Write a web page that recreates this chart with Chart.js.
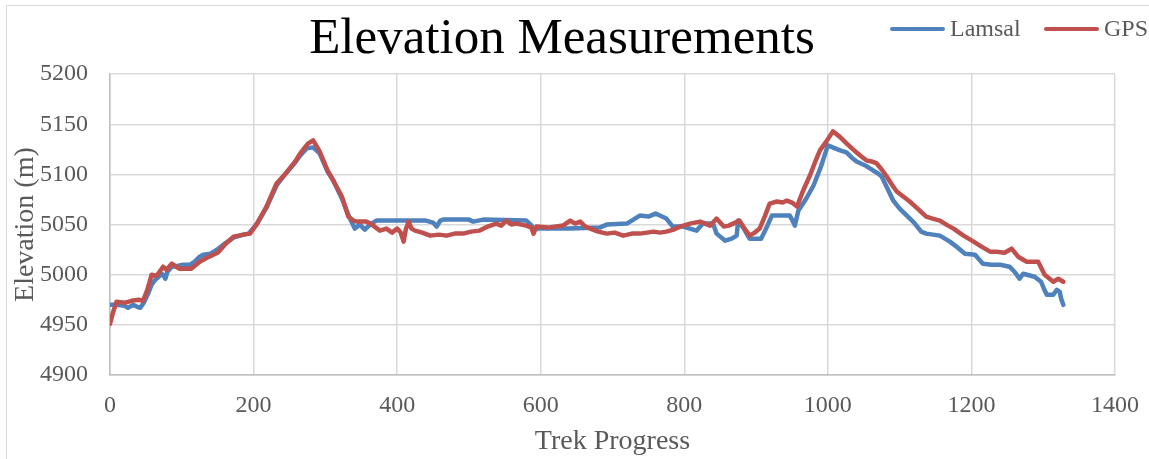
<!DOCTYPE html>
<html>
<head>
<meta charset="utf-8">
<title>Elevation Measurements</title>
<script src="https://cdn.jsdelivr.net/npm/chart.js@4.4.1/dist/chart.umd.min.js"></script>
<style>
    html, body { margin: 0; padding: 0; background: #fff; overflow: hidden; }
    .frame { position: absolute; left: 6px; top: 5px; width: 1300px; height: 600px; border-left: 1px solid #d9d9d9; border-top: 1px solid #d9d9d9; }
    .wrap { position: absolute; left: 0; top: 0; width: 1149px; height: 459px; }
</style>
</head>
<body>
<div class="frame"></div>
<div class="wrap"><canvas id="elevationChart"></canvas></div>
<script>
"use strict";

const seriesNames = ["Lamsal", "GPS"];
const seriesColors = ["#4f81bd", "#c0504d"];

// values (trek progress index, elevation in m)
const lamsalX = [0, 10, 20, 25, 32, 38, 42, 47, 53, 58, 63, 68, 72, 74, 77, 80, 86, 95, 102, 112, 118, 125, 130, 140, 149, 160, 172, 186, 193, 204, 218, 232, 246, 258, 265, 274, 283, 292, 303, 311, 323, 333, 341, 348, 355, 362, 371, 404, 440, 450, 455, 460, 464, 500, 506, 520, 580, 586, 590, 640, 682, 692, 720, 738, 750, 760, 766, 775, 784, 798, 808, 817, 826, 840, 845, 857, 866, 873, 875, 882, 891, 907, 914, 922, 947, 950, 954, 959, 970, 980, 990, 1000, 1010, 1017, 1026, 1033, 1040, 1052, 1063, 1070, 1075, 1083, 1091, 1100, 1110, 1120, 1130, 1137, 1156, 1170, 1181, 1191, 1205, 1216, 1228, 1240, 1253, 1260, 1267, 1272, 1288, 1297, 1301, 1305, 1314, 1319, 1323, 1325, 1328];
const lamsalY = [4970, 4970, 4969, 4967, 4970, 4968, 4967, 4972, 4981, 4990, 4995, 4998, 5001, 5000, 4996, 5003, 5008, 5009, 5010, 5010, 5013, 5018, 5020, 5021, 5025, 5031, 5037, 5040, 5041, 5050, 5067, 5089, 5102, 5112, 5119, 5126, 5127, 5121, 5103, 5094, 5076, 5058, 5046, 5050, 5045, 5050, 5054, 5054, 5054, 5052, 5048, 5054, 5055, 5055, 5053, 5055, 5054, 5050, 5046, 5046, 5047, 5050, 5051, 5059, 5058, 5061, 5059, 5056, 5048, 5048, 5046, 5044, 5051, 5051, 5041, 5034, 5036, 5039, 5054, 5047, 5036, 5036, 5046, 5059, 5059, 5055, 5049, 5064, 5076, 5089, 5107, 5129, 5126, 5124, 5122, 5117, 5113, 5109, 5104, 5101, 5098, 5086, 5074, 5066, 5059, 5052, 5043, 5041, 5039, 5033, 5027, 5021, 5020, 5011, 5010, 5010, 5008, 5003, 4996, 5001, 4998, 4993, 4986, 4980, 4980, 4985, 4983, 4976, 4970];

const gpsX = [0, 4, 9, 20, 30, 40, 46, 52, 58, 65, 70, 74, 79, 86, 92, 97, 113, 125, 135, 144, 150, 160, 172, 186, 195, 204, 218, 232, 246, 258, 265, 276, 283, 292, 303, 311, 323, 332, 339, 344, 357, 363, 376, 385, 393, 400, 405, 409, 412, 416, 420, 425, 435, 446, 458, 469, 480, 492, 503, 515, 526, 538, 545, 552, 559, 566, 580, 587, 590, 594, 610, 631, 641, 648, 655, 662, 669, 680, 692, 703, 715, 727, 738, 748, 757, 766, 775, 785, 794, 808, 822, 836, 845, 850, 855, 862, 868, 877, 884, 891, 898, 905, 912, 919, 929, 937, 943, 950, 957, 965, 975, 982, 989, 998, 1007, 1016, 1026, 1035, 1045, 1054, 1061, 1068, 1075, 1082, 1089, 1096, 1105, 1114, 1125, 1137, 1146, 1156, 1165, 1175, 1189, 1203, 1214, 1226, 1235, 1246, 1256, 1265, 1277, 1293, 1302, 1309, 1314, 1321, 1328];
const gpsY = [4951, 4962, 4973, 4972, 4974, 4975, 4974, 4985, 5000, 4999, 5004, 5008, 5005, 5011, 5008, 5006, 5006, 5013, 5017, 5020, 5022, 5030, 5038, 5040, 5041, 5050, 5068, 5091, 5102, 5113, 5121, 5131, 5134, 5123, 5104, 5094, 5078, 5058, 5054, 5053, 5053, 5051, 5044, 5046, 5042, 5046, 5042, 5033, 5045, 5053, 5046, 5044, 5042, 5039, 5040, 5039, 5041, 5041, 5043, 5044, 5048, 5051, 5049, 5054, 5050, 5051, 5049, 5047, 5041, 5048, 5047, 5049, 5054, 5051, 5053, 5048, 5046, 5043, 5041, 5042, 5039, 5041, 5041, 5042, 5043, 5042, 5043, 5045, 5048, 5051, 5053, 5049, 5056, 5052, 5048, 5049, 5051, 5054, 5046, 5039, 5042, 5046, 5058, 5071, 5073, 5072, 5074, 5072, 5068, 5083, 5099, 5112, 5124, 5133, 5143, 5138, 5131, 5125, 5119, 5114, 5113, 5111, 5105, 5098, 5090, 5083, 5078, 5073, 5066, 5058, 5056, 5054, 5050, 5046, 5039, 5033, 5028, 5023, 5023, 5022, 5026, 5018, 5013, 5013, 5000, 4996, 4993, 4996, 4993];

const xRange = [0, 1400, 200];
const yRange = [4900, 5200, 50];

const serif = "'Liberation Serif', 'Times New Roman', serif";
const textGrey = "#595959";

function points(xs, ys) {
    return xs.map((x, i) => ({ x: x, y: ys[i] }));
}

function plainNumber(value) {
    return String(value);
}

// legend sits in the title band at the top right, as in the original
const legendSlots = [890, 1044];
const cornerLegend = {
    id: "cornerLegend",
    afterDraw(chart) {
        const ctx = chart.ctx;
        ctx.save();
        ctx.font = "24px " + serif;
        ctx.textBaseline = "middle";
        ctx.textAlign = "left";
        chart.data.datasets.forEach((ds, i) => {
            const x = legendSlots[i];
            ctx.strokeStyle = ds.borderColor;
            ctx.lineWidth = 4;
            ctx.lineCap = "round";
            ctx.beginPath();
            ctx.moveTo(x + 2, 29);
            ctx.lineTo(x + 53, 29);
            ctx.stroke();
            ctx.fillStyle = textGrey;
            ctx.fillText(ds.label, x + 60, 30);
        });
        ctx.restore();
    }
};

new Chart(document.getElementById("elevationChart").getContext("2d"), {
    type: "line",
    data: {
        datasets: [
            { label: seriesNames[0], data: points(lamsalX, lamsalY), borderColor: seriesColors[0], backgroundColor: seriesColors[0], order: 1 },
            { label: seriesNames[1], data: points(gpsX, gpsY), borderColor: seriesColors[1], backgroundColor: seriesColors[1], order: 0 }
        ]
    },
    options: {
        responsive: true,
        maintainAspectRatio: false,
        devicePixelRatio: 1,
        animation: false,
        layout: { padding: { top: 5, left: 9, right: 34, bottom: 0 } },
        elements: {
            point: { radius: 0, hoverRadius: 0 },
            line: { borderWidth: 4.5, tension: 0, borderJoinStyle: "round", borderCapStyle: "round", fill: false }
        },
        plugins: {
            legend: { display: false },
            tooltip: { enabled: false },
            title: {
                display: true,
                text: "Elevation Measurements",
                color: "#000",
                font: { family: serif, size: 51, weight: "normal" },
                padding: { top: 4, bottom: 4 }
            }
        },
        scales: {
            x: {
                type: "linear",
                min: xRange[0],
                max: xRange[1],
                afterFit(scale) {
                    scale.height = 84;
                    scale.paddingLeft = 0;
                    scale.paddingRight = 0;
                },
                ticks: { stepSize: xRange[2], padding: 16, color: textGrey, font: { family: serif, size: 24 }, callback: plainNumber },
                grid: { color: "#d9d9d9", lineWidth: 1.5, drawTicks: false },
                border: { color: "#bfbfbf", width: 1.5 },
                title: { display: true, text: "Trek Progress", color: textGrey, font: { family: serif, size: 28 }, padding: { top: 0, bottom: 1 } }
            },
            y: {
                min: yRange[0],
                max: yRange[1],
                afterFit(scale) { scale.width = 101; },
                ticks: { stepSize: yRange[2], padding: 22, color: textGrey, font: { family: serif, size: 24 }, callback: plainNumber },
                grid: { color: "#d9d9d9", lineWidth: 1.5, drawTicks: false },
                border: { color: "#bfbfbf", width: 1.5 },
                title: { display: true, text: "Elevation (m)", color: textGrey, font: { family: serif, size: 28 }, padding: { top: 0, bottom: 0 } }
            }
        }
    },
    plugins: [cornerLegend]
});
</script>
</body>
</html>
